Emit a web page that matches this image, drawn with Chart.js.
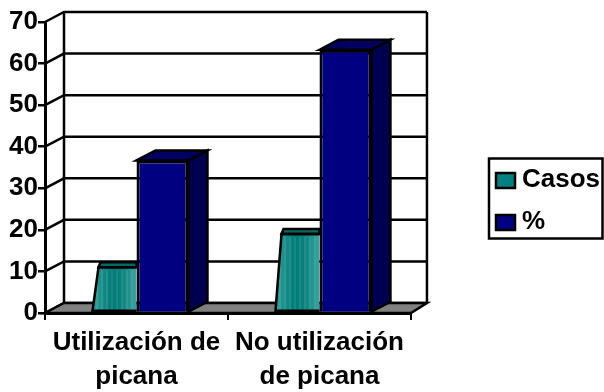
<!DOCTYPE html>
<html>
<head>
<meta charset="utf-8">
<style>body{margin:0;background:#fff}canvas{display:block}</style>
<script src="https://cdn.jsdelivr.net/npm/chart.js@4"></script>
</head>
<body>
<canvas id="grafico" width="604" height="392"></canvas>
<script>
const categorias = [['Utilización de', 'picana'], ['No utilización', 'de picana']];
const nombres = ['Casos', '%'];
const casos = [11, 19];
const porcentaje = [36.7, 63.3];
const ticksY = [0, 10, 20, 30, 40, 50, 60, 70];

const fuente = { family: '"Liberation Sans", Arial, sans-serif', size: 26, weight: 'bold' };
const DX = 19, DY = -10;

function linea(c, puntos, ancho) {
    c.beginPath();
    puntos.forEach((p, i) => i ? c.lineTo(p[0], p[1]) : c.moveTo(p[0], p[1]));
    c.lineWidth = ancho;
    c.strokeStyle = '#000';
    c.stroke();
}

function poligono(c, puntos, color) {
    c.beginPath();
    puntos.forEach((p, i) => i ? c.lineTo(p[0], p[1]) : c.moveTo(p[0], p[1]));
    c.closePath();
    c.fillStyle = color;
    c.fill();
    c.lineWidth = 2.5;
    c.strokeStyle = '#000';
    c.lineJoin = 'miter';
    c.stroke();
}

// contorno de las barras verdes, que en el original salen deformadas
function contornoCasos(bar) {
    const izq = bar.x - bar.width / 2, der = bar.x + bar.width / 2;
    return [[izq + 8, bar.base - 1], [izq + 14, bar.y], [der, bar.y], [der, bar.base - 1]];
}

const tresD = {
    id: 'tresD',
    beforeDatasetsDraw(chart) {
        const c = chart.ctx, x = chart.scales.x, y = chart.scales.y;
        const atrasDer = x.right + 16;
        c.save();
        ticksY.forEach(v => {
            const py = y.getPixelForValue(v);
            linea(c, [[x.left, py], [x.left + DX, py + DY], [atrasDer, py + DY]], 2.5);
        });
        linea(c, [[x.left + DX, y.top + DY], [x.left + DX, y.bottom + DY]], 2.5);
        linea(c, [[atrasDer, y.top + DY], [atrasDer, y.bottom + DY]], 2.5);
        poligono(c, [[x.left, y.bottom], [x.left + DX, y.bottom + DY], [atrasDer, y.bottom + DY], [x.right, y.bottom]], '#808080');
        c.restore();
    },
    beforeDatasetDraw(chart, args) {
        if (args.index !== 0) return;
        const c = chart.ctx;
        c.save();
        c.beginPath();
        args.meta.data.forEach(bar => {
            contornoCasos(bar).forEach((p, i) => i ? c.lineTo(p[0], p[1]) : c.moveTo(p[0], p[1]));
            c.closePath();
        });
        c.clip();
    },
    afterDatasetDraw(chart, args) {
        const c = chart.ctx;
        if (args.index === 0) {
            args.meta.data.forEach(bar => {
                const izq = bar.x - bar.width / 2, der = bar.x + bar.width / 2;
                const g = c.createLinearGradient(izq + 8, 0, der, 0);
                g.addColorStop(0, '#2f9f9a');
                g.addColorStop(0.45, '#007a78');
                g.addColorStop(0.65, '#0b7f7c');
                g.addColorStop(1, '#3aa39e');
                c.fillStyle = g;
                c.fillRect(izq, bar.y, bar.width, bar.base - bar.y);
                c.fillStyle = 'rgba(150,215,210,.3)';
                for (let sx = izq + 12; sx < der; sx += 5) c.fillRect(sx, bar.y + 3, 1, bar.base - bar.y - 5);
            });
            c.restore();
            args.meta.data.forEach(bar => {
                const p = contornoCasos(bar);
                poligono(c, [p[1], [p[1][0] + 2, bar.y - 5], [p[2][0], bar.y - 5], p[2]], '#006a68');
                linea(c, [p[2], p[1], p[0], p[3]], 2.5);
            });
        } else {
            args.meta.data.forEach(bar => {
                const izq = bar.x - bar.width / 2, der = bar.x + bar.width / 2;
                poligono(c, [[der, bar.y], [der + DX, bar.y + DY], [der + DX, bar.base + DY], [der, bar.base]], '#000050');
                poligono(c, [[izq, bar.y], [izq + DX, bar.y + DY], [der + DX, bar.y + DY], [der, bar.y]], '#000060');
            });
        }
    },
    afterLayout(chart) {
        // la leyenda va pegada al borde derecho, fuera del hueco que reserva el layout
        const l = chart.legend, mover = 485 - l.left;
        l.left += mover; l.right += mover;
        l.top = 150.5; l.bottom = 392;
        l.legendHitBoxes.forEach(h => { h.left += mover; });
    },
    afterDraw(chart) {
        const c = chart.ctx, l = chart.legend;
        c.save();
        c.lineWidth = 2.5;
        c.strokeStyle = '#000';
        c.strokeRect(489, 158.5, 113.5, 80);
        l.legendHitBoxes.forEach((h, i) => {
            c.fillStyle = chart.data.datasets[i].backgroundColor;
            c.fillRect(496, 173 + i * 42, 19, 15);
            c.strokeRect(496, 173 + i * 42, 19, 15);
        });
        c.restore();
    }
};

new Chart(document.getElementById('grafico').getContext('2d'), {
    type: 'bar',
    data: {
        labels: categorias,
        datasets: [
            { label: nombres[0], data: casos, backgroundColor: '#008080' },
            { label: nombres[1], data: porcentaje, backgroundColor: '#000080', borderColor: '#000', borderWidth: 3 }
        ]
    },
    plugins: [tresD],
    options: {
        responsive: false,
        animation: false,
        layout: { padding: { top: 22, right: 68 } },
        categoryPercentage: 0.568,
        barPercentage: 1,
        plugins: {
            tooltip: { enabled: false },
            legend: {
                position: 'right',
                align: 'start',
                labels: { color: '#000', font: fuente, boxWidth: 8, boxHeight: 8, padding: 16 }
            }
        },
        scales: {
            x: {
                afterFit(s) { s.height = 79; },
                border: { color: '#000', width: 3 },
                grid: { drawOnChartArea: false, color: '#000', lineWidth: 2, tickLength: 7 },
                ticks: { color: '#000', font: { ...fuente, lineHeight: 1.3 }, maxRotation: 0, padding: 6 }
            },
            y: {
                min: 0,
                max: 70,
                afterFit(s) { s.width = 45; },
                afterBuildTicks(s) { s.ticks = ticksY.map(v => ({ value: v })); },
                border: { color: '#000', width: 3 },
                grid: { drawOnChartArea: false, color: '#000', lineWidth: 2.5, tickLength: 7 },
                ticks: { color: '#000', font: fuente, padding: 0 }
            }
        }
    }
});
</script>
</body>
</html>
